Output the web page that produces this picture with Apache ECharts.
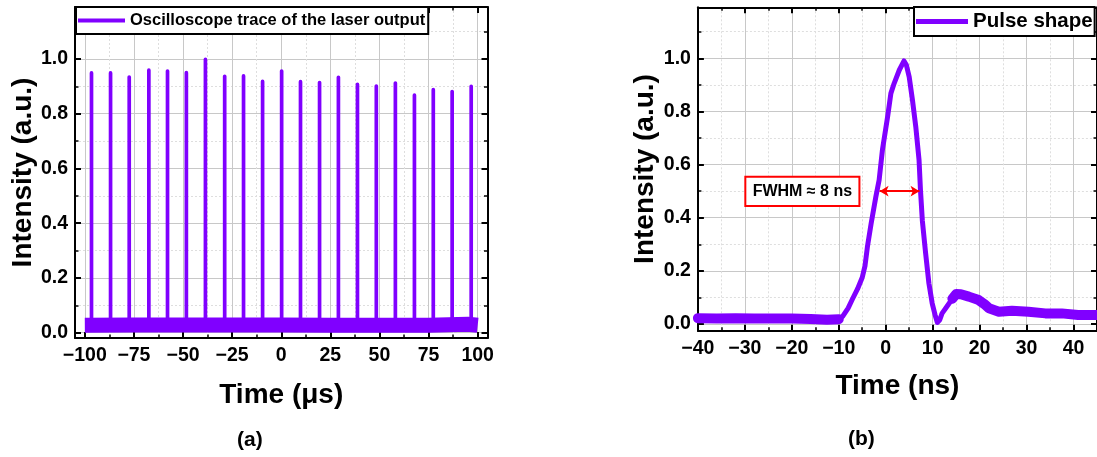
<!DOCTYPE html>
<html><head><meta charset="utf-8">
<script src="https://cdn.jsdelivr.net/npm/echarts@6/dist/echarts.min.js"></script>
<style>html,body{margin:0;padding:0;background:#fff}#c{width:1097px;height:457px}</style>
</head><body><div id="c"></div>
<script>
// ---------- Panel (a): oscilloscope trace ----------
const pulseTimesA  = [-96.6, -86.9, -77.4, -67.4, -57.9, -48.3, -38.6, -28.8, -19.2, -9.5, 0.2, 9.8, 19.5, 29.1, 38.8, 48.4, 58.1, 67.8, 77.4, 87.0, 96.7];
const pulsePeaksA  = [0.949, 0.949, 0.934, 0.959, 0.956, 0.950, 0.999, 0.937, 0.938, 0.918, 0.956, 0.917, 0.914, 0.933, 0.907, 0.901, 0.912, 0.868, 0.888, 0.881, 0.900];
const pulseBaseA   = 0.027;
const baselineTimesA  = [-100, -75, -50, -25, 0, 25, 50, 75, 95, 100];
const baselineValuesA = [0.027, 0.028, 0.028, 0.028, 0.028, 0.027, 0.027, 0.027, 0.031, 0.027];
const xMajorA = [-100, -75, -50, -25, 0, 25, 50, 75, 100];
const xMinorA = [-87.5, -62.5, -37.5, -12.5, 12.5, 37.5, 62.5, 87.5];
const yMajor  = [0, 0.2, 0.4, 0.6, 0.8, 1.0];
const yMinor  = [0.1, 0.3, 0.5, 0.7, 0.9, 1.1];

// ---------- Panel (b): single pulse shape ----------
const pulseTimesB  = [-40, -36, -32, -28, -24, -20, -16, -12.5, -10, -9.2, -8, -7, -6, -5, -4.4, -3.9, -3.1, -2.1, -1.4, -0.7, 0.4, 1.1, 1.8, 2.9, 3.9, 4.4, 5.0, 5.7, 6.4, 7.1, 7.4, 7.8, 8.5, 9.2, 9.9, 10.5, 11.0, 11.5, 12.0, 13.0, 14.2, 15.0, 16.0, 17.7, 19.8, 21.0, 22.0, 24.1, 26.9, 30.4, 34.0, 37.5, 41.0, 45.0];
const pulseValuesB = [0.022, 0.021, 0.022, 0.021, 0.021, 0.021, 0.019, 0.016, 0.018, 0.028, 0.06, 0.097, 0.132, 0.175, 0.22, 0.29, 0.379, 0.479, 0.542, 0.655, 0.78, 0.868, 0.906, 0.956, 0.99, 0.975, 0.93, 0.843, 0.743, 0.617, 0.505, 0.39, 0.266, 0.153, 0.078, 0.035, 0.006, 0.015, 0.04, 0.065, 0.095, 0.113, 0.112, 0.103, 0.09, 0.075, 0.059, 0.046, 0.05, 0.046, 0.04, 0.04, 0.034, 0.034];
const noisyBeforeB = -10;   // noisy baseline region (before the pulse), ns
const noisyAfterB  = 14.2;  // noisy tail region (after the pulse), ns
const xMajorB = [-40, -30, -20, -10, 0, 10, 20, 30, 40];
const xMinorB = [-35, -25, -15, -5, 5, 15, 25, 35];
const fwhmBoxX = [-29.9, -5.6];
const fwhmBoxY = [0.444, 0.554];
const fwhmArrowX = [-1.3, 7.2];
const fwhmArrowY = 0.5;

const PURPLE = '#8000ff';
const FONT = "'Liberation Sans', Arial, Helvetica, sans-serif";
const txt = (size) => ({fontFamily: FONT, fontSize: size, fontWeight: 'bold', color: '#000'});
const minusFmt = v => String(v).replace('-', '\u2212');

function xAxes(g, min, max, major, minor, name, nameGap) {
  const base = {type: 'value', gridIndex: g, min, max,
    axisLine: {show: false, onZero: false}, axisLabel: {show: false}, axisTick: {show: false},
    splitLine: {show: false}, minorTick: {show: false}, minorSplitLine: {show: false}};
  const frame = {show: true, onZero: false, lineStyle: {color: '#000', width: 2}};
  return [
    Object.assign({}, base, {position: 'bottom', name, nameLocation: 'middle', nameGap, nameTextStyle: txt(28),
      axisLine: frame,
      axisTick: {show: true, inside: true, length: 6, lineStyle: {color: '#000', width: 2}, customValues: major},
      axisLabel: Object.assign({show: true, customValues: major, margin: 8, formatter: minusFmt}, txt(19.5)),
      splitLine: {show: true, lineStyle: {color: '#c8c8c8', width: 1}}}),
    Object.assign({}, base, {position: 'bottom',
      axisTick: {show: true, inside: true, length: 3.5, lineStyle: {color: '#000', width: 1.5}, customValues: minor},
      splitLine: {show: true, lineStyle: {color: '#dedede', width: 1, type: [2, 2]}}}),
    Object.assign({}, base, {position: 'top', axisLine: frame,
      axisTick: {show: true, inside: true, length: 6, lineStyle: {color: '#000', width: 2}, customValues: major}}),
    Object.assign({}, base, {position: 'top',
      axisTick: {show: true, inside: true, length: 3.5, lineStyle: {color: '#000', width: 1.5}, customValues: minor}})
  ];
}
function yAxes(g, min, max, major, minor, name, nameGap) {
  const base = {type: 'value', gridIndex: g, min, max,
    axisLine: {show: false, onZero: false}, axisLabel: {show: false}, axisTick: {show: false},
    splitLine: {show: false}, minorTick: {show: false}, minorSplitLine: {show: false}};
  const frame = {show: true, onZero: false, lineStyle: {color: '#000', width: 2}};
  return [
    Object.assign({}, base, {position: 'left', name, nameLocation: 'middle', nameGap, nameTextStyle: txt(28),
      axisLine: frame,
      axisTick: {show: true, inside: true, length: 6, lineStyle: {color: '#000', width: 2}, customValues: major},
      axisLabel: Object.assign({show: true, customValues: major, margin: 7, formatter: v => v.toFixed(1)}, txt(19.5)),
      splitLine: {show: true, lineStyle: {color: '#c8c8c8', width: 1}}}),
    Object.assign({}, base, {position: 'left',
      axisTick: {show: true, inside: true, length: 3.5, lineStyle: {color: '#000', width: 1.5}, customValues: minor},
      splitLine: {show: true, lineStyle: {color: '#dedede', width: 1, type: [2, 2]}}}),
    Object.assign({}, base, {position: 'right', axisLine: frame,
      axisTick: {show: true, inside: true, length: 6, lineStyle: {color: '#000', width: 2}, customValues: major}}),
    Object.assign({}, base, {position: 'right',
      axisTick: {show: true, inside: true, length: 3.5, lineStyle: {color: '#000', width: 1.5}, customValues: minor}})
  ];
}

// build series data from the arrays
const traceA = [];
pulseTimesA.forEach((t, i) => { traceA.push([t, pulseBaseA], [t, pulsePeaksA[i]], [t, pulseBaseA]); });
const baselineA = baselineTimesA.map((t, i) => [t, baselineValuesA[i]]);
const traceB = pulseTimesB.map((t, i) => [t, pulseValuesB[i]]);
const noiseB1 = traceB.filter(p => p[0] <= noisyBeforeB);
const noiseB2 = traceB.filter(p => p[0] >= noisyAfterB);

const chart = echarts.init(document.getElementById('c'), null, {renderer: 'canvas'});
const option = {
  animation: false,
  backgroundColor: '#fff',
  grid: [
    {left: 75, top: 7, width: 412.5, height: 331, containLabel: false},
    {left: 697.9, top: 7.3, width: 400.7, height: 323.4, containLabel: false}
  ],
  xAxis: [].concat(
    xAxes(0, -105, 105, xMajorA, xMinorA, 'Time (\u03bcs)', 43),
    xAxes(1, -40, 45, xMajorB, xMinorB, 'Time (ns)', 42)
  ),
  yAxis: [].concat(
    yAxes(0, -0.0194, 1.19, yMajor, yMinor, 'Intensity (a.u.)', 38),
    yAxes(1, -0.0252, 1.192, yMajor, yMinor, 'Intensity (a.u.)', 39)
  ),
  legend: [
    {data: [{name: 'Oscilloscope trace of the laser output', icon: 'rect'}], left: 76, top: 7,
     padding: [5, 3, 5, 2], itemWidth: 47, itemHeight: 4, borderColor: '#000', borderWidth: 2,
     backgroundColor: '#fff', selectedMode: false, textStyle: txt(16.5)},
    {data: [{name: 'Pulse shape', icon: 'rect'}], left: 914, top: 7,
     padding: [4, 2, 4, 2], itemWidth: 52, itemHeight: 5, borderColor: '#000', borderWidth: 2,
     backgroundColor: '#fff', selectedMode: false, textStyle: txt(20.5)}
  ],
  series: [
    {type: 'line', name: 'baseline (a)', xAxisIndex: 0, yAxisIndex: 0, data: baselineA, showSymbol: false, silent: true,
     color: PURPLE, lineStyle: {color: PURPLE, width: 15, cap: 'butt', join: 'round'}},
    {type: 'line', name: 'Oscilloscope trace of the laser output', xAxisIndex: 0, yAxisIndex: 0, data: traceA,
     showSymbol: false, silent: true, color: PURPLE, lineStyle: {color: PURPLE, width: 3.7, cap: 'round', join: 'round'}},
    {type: 'line', name: 'noise (b1)', xAxisIndex: 4, yAxisIndex: 4, data: noiseB1, showSymbol: false, silent: true,
     color: PURPLE, lineStyle: {color: PURPLE, width: 10, cap: 'round', join: 'round'}},
    {type: 'line', name: 'noise (b2)', xAxisIndex: 4, yAxisIndex: 4, data: noiseB2, showSymbol: false, silent: true,
     color: PURPLE, lineStyle: {color: PURPLE, width: 10, cap: 'round', join: 'round'}},
    {type: 'line', name: 'Pulse shape', xAxisIndex: 4, yAxisIndex: 4, data: traceB, showSymbol: false, silent: true,
     color: PURPLE, lineStyle: {color: PURPLE, width: 5, cap: 'round', join: 'round'},
     markArea: {silent: true,
       itemStyle: {color: '#fff', borderColor: '#ff0000', borderWidth: 2},
       label: Object.assign({show: true, position: 'inside', formatter: 'FWHM \u2248 8 ns'}, txt(16)),
       data: [[{xAxis: fwhmBoxX[0], yAxis: fwhmBoxY[1]}, {xAxis: fwhmBoxX[1], yAxis: fwhmBoxY[0]}]]},
     markLine: {silent: true, symbol: ['arrow', 'arrow'], symbolSize: [8, 9],
       lineStyle: {color: '#ff0000', width: 2, type: 'solid'}, label: {show: false},
       data: [[{coord: [fwhmArrowX[0], fwhmArrowY]}, {coord: [fwhmArrowX[1], fwhmArrowY]}]]}}
  ],
  graphic: [
    {type: 'text', left: 237, top: 430, style: {text: '(a)', font: "bold 21px 'Liberation Sans', Arial, sans-serif", fill: '#000'}},
    {type: 'text', left: 848, top: 429, style: {text: '(b)', font: "bold 21px 'Liberation Sans', Arial, sans-serif", fill: '#000'}}
  ]
};
chart.setOption(option);
</script>
</body></html>
